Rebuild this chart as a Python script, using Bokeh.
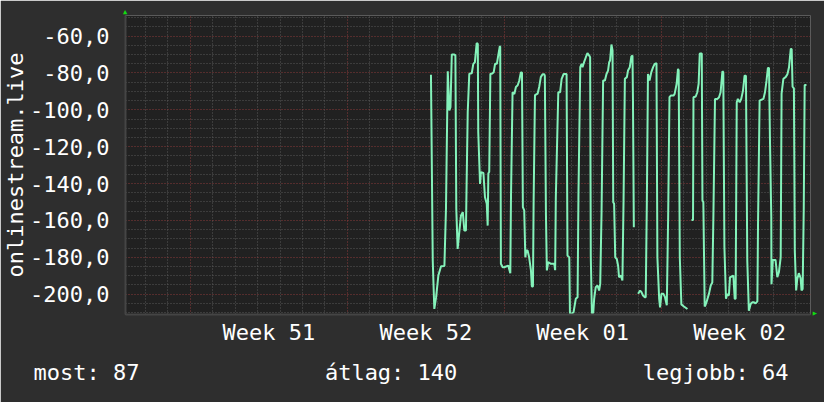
import numpy as np
from bokeh.plotting import figure
from bokeh.models import FixedTicker, Range1d, Title
from bokeh.embed import file_html
from bokeh.resources import INLINE

nan = float("nan")

# time in days since the start of week 51, value of the series
days = [10.73, 10.81, 10.88, 10.96, 11.06, 11.18, 11.33, 11.40, 11.48, 11.55, 11.60, 11.66, 11.77, 11.82,
        11.86, 11.92, 12.00, 12.07, 12.15, 12.22, 12.29, 12.32, 12.37, 12.44, 12.55, 12.62, 12.69, 12.77,
        12.82, 12.84, 12.92, 12.96, 13.07, 13.14, 13.22, 13.26, 13.29, 13.33, 13.38, 13.45, 13.53, 13.59,
        13.67, 13.73, 13.80, 13.82, 13.85, 13.93, 14.00, 14.08, 14.18, 14.27, 14.30, 14.37, 14.45, 14.52,
        14.60, 14.67, 14.74, 14.79, 14.83, 14.89, 14.94, 14.98, 15.04, 15.11, 15.19, 15.23, 15.28, 15.31,
        15.37, 15.49, 15.56, 15.63, 15.71, 15.78, 15.81, 15.86, 15.90, 15.96, 16.08, 16.23, 16.27, 16.30,
        16.41, 16.49, 16.56, 16.65, 16.78, 16.82, 16.90, 16.93, 17.02, 17.09, 17.19, 17.27, 17.31, 17.39,
        17.45, 17.49, 17.56, 17.64, 17.71, 17.79, 17.83, 17.86, 17.91, 17.97, 18.01, 18.08, 18.16, 18.23,
        18.28, 18.34, 18.41, 18.49, 18.56, 18.63, 18.68, 18.72, 18.78, 18.83, 18.86, 18.90, 18.95, 19.02,
        19.08, 19.12, 19.20, 19.27, 19.32, 19.38, 19.47, 19.52, 19.60, 19.67, 19.72, 19.74, 19.78, 19.88,
        19.97, 20.06, 20.12, 20.19, 20.27, 20.31, 20.36, 20.41, 20.48, 20.56, 20.64, 20.71, 20.79, 20.83,
        20.91, 20.95, 21.01, 21.10, 21.17, 21.25, 21.31, 21.37, 21.43, 21.55, 21.60, 21.69, 21.75, 21.78,
        21.83, 21.90, 22.00, 22.17, 22.26, 22.35, 22.42, 22.44, 22.54, 22.61, 22.67, 22.72, 22.81, 22.84,
        22.88, 22.94, 23.02, 23.06, 23.13, 23.21, 23.28, 23.33, 23.40, 23.51, 23.58, 23.65, 23.73, 23.77,
        23.82, 23.89, 23.95, 24.02, 24.07, 24.14, 24.22, 24.28, 24.32, 24.37, 24.42, 24.50, 24.57, 24.65,
        24.72, 24.78, 24.84, 24.91, 24.99, 25.06, 25.14, 25.21, 25.29, 25.32, 25.39, 25.48, 25.56, 25.63,
        25.70, 25.76, 25.81, 25.85, 25.91, 25.92, 25.98, 26.10, 26.18, 26.25, 26.33, 26.37, 26.45, 26.55,
        26.63, 26.70, 26.78, 26.82, 26.86, 26.92, 26.96, 27.02, 27.07, 27.14, 27.22, 27.26, 27.31, 27.36,
        27.40, 27.48]
values = [-81.0, -181.7, -208.0, -201.6, -189.9, -184.8, -184.7, -153.7, -79.1, -100.4, -98.6, -70.0, -70.0, -70.5,
          -153.7, -175.4, -165.5, -157.3, -155.5, -165.5, -165.5, -140.2, -101.3, -80.5, -80.2, -75.1, -74.2, -63.9,
          -64.3, -112.2, -140.2, -133.8, -134.3, -147.4, -151.0, -162.8, -134.5, -133.6, -80.5, -80.5, -79.6, -75.1,
          -75.1, -70.6, -65.7, -65.7, -183.5, -185.4, -185.4, -185.0, -184.5, -188.6, -147.4, -90.5, -91.4, -87.6,
          -86.7, -84.1, -79.8, -79.8, -152.8, -154.6, -180.0, -176.3, -176.3, -180.0, -187.1, -195.8, -195.8, -149.2,
          -92.1, -91.2, -87.5, -82.3, -80.7, -80.7, -81.6, -157.3, -187.1, -182.6, -183.5, -183.5, -187.0, -147.4,
          -90.5, -90.5, -83.2, -80.6, -80.6, -179.0, -180.0, -210.5, -210.5, -209.8, -202.5, -201.6, -145.6, -76.9,
          -75.1, -76.9, -74.2, -71.5, -69.3, -70.6, -71.5, -180.0, -210.5, -210.0, -202.5, -196.2, -195.3, -198.0,
          -194.4, -155.5, -84.1, -84.1, -80.6, -78.8, -74.2, -73.3, -64.6, -67.8, -150.1, -151.0, -180.0, -180.9,
          -184.7, -190.8, -189.9, -192.6, -150.1, -83.2, -82.3, -78.7, -76.9, -71.1, -70.6, -93.2, -163.7, nan,
          -199.8, -198.0, -198.9, -200.7, -201.6, -201.6, -150.1, -80.6, -84.1, -79.6, -76.9, -75.1, -74.8, -180.0,
          -202.5, -207.1, -199.8, -199.8, -201.6, -206.0, -158.3, -93.2, -92.3, -92.3, -91.4, -85.9, -77.8, -78.7,
          -180.0, -205.5, -206.5, -208.0, nan, -159.7, -159.7, -93.2, -92.8, -90.5, -86.0, -69.5, -69.5, -149.2,
          -150.1, -206.7, -204.4, -202.7, -199.8, -195.3, -193.7, -156.5, -94.1, -94.1, -93.2, -90.5, -79.1, -79.6,
          -174.5, -202.5, -199.8, -200.7, -190.8, -190.4, -189.9, -202.5, -202.5, -95.9, -94.1, -95.9, -94.1, -89.6,
          -81.5, -81.5, -181.7, -208.9, -205.3, -204.4, -204.4, -205.0, -203.9, -161.0, -95.0, -94.5, -94.1, -90.5,
          -84.1, -77.3, -77.3, -114.9, -158.3, -194.6, -181.4, -181.4, -190.8, -188.1, -180.0, -91.3, -83.2, -82.3,
          -80.7, -77.1, -67.0, -67.0, -87.5, -88.4, -176.3, -198.0, -191.7, -188.6, -191.3, -198.0, -197.1, -152.8,
          -86.6, -86.6]

y_ticks = [-200, -180, -160, -140, -120, -100, -80, -60]
y_tick_labels = ["-200,0", "-180,0", "-160,0", "-140,0", "-120,0", "-100,0", "-80,0", "-60,0"]
y_minor = [v for v in range(-210, -45, 5) if v not in y_ticks]
week_starts = [0, 7, 14, 21]
week_label_pos = [3.5, 10.5, 17.5, 24.5]
week_labels = ["Week 51", "Week 52", "Week 01", "Week 02"]
day_lines = [d for d in range(-2, 28) if d not in week_starts]
series_name = "onlinestream.live"
legend_items = ["most: 87", "átlag: 140", "legjobb: 64"]

FONT = "DejaVu Sans Mono"
BG = "#2e2e2e"
CANVAS = "#212121"
TXT = "#ffffff"
ARROW = "#11dd11"
NB = "\u00a0"
W, H = 824, 402
FRAME_LEFT = 124

p = figure(width=W, height=H, output_backend="svg", toolbar_location=None,
           x_range=Range1d(-2.895, 27.66), y_range=Range1d(-211.0, -48.88),
           min_border_left=FRAME_LEFT, min_border_right=14, min_border_top=15, min_border_bottom=88,
           background_fill_color=CANVAS, border_fill_color=BG, outline_line_color=None)

# axes
p.xaxis.ticker = FixedTicker(ticks=week_label_pos)
p.xaxis.major_label_overrides = {t: l for t, l in zip(week_label_pos, week_labels)}
p.yaxis.ticker = FixedTicker(ticks=y_ticks)
p.yaxis.major_label_overrides = {t: l for t, l in zip(y_ticks, y_tick_labels)}
for ax in (p.xaxis[0], p.yaxis[0]):
    ax.major_tick_line_color = None
    ax.minor_tick_line_color = None
    ax.major_tick_out = 0
    ax.major_tick_in = 0
    ax.minor_tick_out = 0
    ax.minor_tick_in = 0
    ax.axis_line_color = "#454545"
    ax.axis_line_width = 2
    ax.major_label_text_font = FONT
    ax.major_label_text_font_size = "22px"
    ax.major_label_text_color = TXT
    ax.axis_label_text_font = FONT
    ax.axis_label_text_font_size = "22px"
    ax.axis_label_text_font_style = "normal"
    ax.axis_label_text_color = TXT
p.xaxis.major_label_standoff = 5
p.yaxis.major_label_standoff = 16

# vertical series name
p.yaxis.axis_label = series_name
p.yaxis.axis_label_standoff = -1

# legend line under the week labels (monospace, padded with no-break spaces)
legend_text = legend_items[0] + NB * 14 + legend_items[1] + NB * 14 + legend_items[2]
p.add_layout(Title(text=legend_text, align="left", offset=32 - FRAME_LEFT, standoff=20,
                   text_font=FONT, text_font_size="22px", text_font_style="normal",
                   text_color=TXT), "below")

# small green arrow heads at the ends of the axes
p.add_layout(Title(text="\u25b2", align="left", offset=-2.5, standoff=0,
                   text_font=FONT, text_font_size="7px", text_font_style="normal",
                   text_color=ARROW), "above")
p.add_layout(Title(text="\u25b2", align="left", offset=296, standoff=0,
                   text_font=FONT, text_font_size="7px", text_font_style="normal",
                   text_color=ARROW), "right")

# grids
p.xgrid.ticker = FixedTicker(ticks=week_starts, minor_ticks=day_lines)
p.ygrid.ticker = FixedTicker(ticks=y_ticks, minor_ticks=y_minor)
for g in (p.xgrid[0], p.ygrid[0]):
    g.grid_line_color = "#8a3a3a"
    g.grid_line_dash = "1 2"
    g.grid_line_width = 1
    g.minor_grid_line_color = "#585858"
    g.minor_grid_line_dash = "1 2"
    g.minor_grid_line_width = 1

p.line(days, values, line_color="#84f2ba", line_width=2)

open("out.html", "w").write(file_html(p, INLINE))
